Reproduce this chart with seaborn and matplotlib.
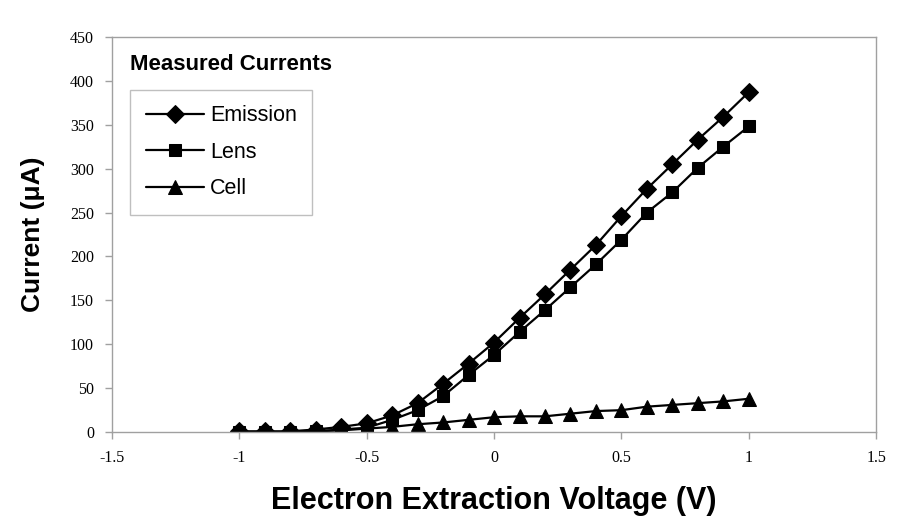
import matplotlib
matplotlib.use("Agg")
import matplotlib.pyplot as plt
import numpy as np
import pandas as pd
import seaborn as sns

# voltajes de extraccion (V)
voltaje = [-1.0, -0.9, -0.8, -0.7, -0.6, -0.5, -0.4, -0.3, -0.2, -0.1, 0.0,
           0.1, 0.2, 0.3, 0.4, 0.5, 0.6, 0.7, 0.8, 0.9, 1.0]

# corrientes medidas (uA)
emision = [1, 1, 1, 3, 6, 10, 19, 33, 55, 78, 102,
           130, 157, 185, 213, 246, 277, 305, 333, 359, 387]
lente = [0, 0, 0, 1, 3, 5, 14, 25, 41, 65, 88,
         114, 139, 165, 191, 219, 250, 273, 301, 325, 348]
celda = [0, 0, 0, 1, 2, 4, 6, 9, 11, 14, 17,
         18, 18, 21, 24, 25, 29, 31, 33, 35, 38]

x_ticks = [-1.5, -1, -0.5, 0, 0.5, 1, 1.5]
x_labels = ["-1.5", "-1", "-0.5", "0", "0.5", "1", "1.5"]
y_ticks = [0, 50, 100, 150, 200, 250, 300, 350, 400, 450]

df = pd.DataFrame({"V": voltaje, "Emission": emision, "Lens": lente, "Cell": celda})

sns.set_style("white", {"xtick.bottom": True, "ytick.left": True,
                        "text.color": "black", "axes.labelcolor": "black",
                        "xtick.color": "black", "ytick.color": "black"})
fig = plt.figure(figsize=(9.06, 5.27), dpi=100)
ax = fig.add_axes([0.1236, 0.180, 0.8434, 0.750])

series = [("Emission", "D", 9.5), ("Lens", "s", 9), ("Cell", "^", 10)]
for nombre, mk, ms in series:
    sns.lineplot(data=df, x="V", y=nombre, marker=mk, markersize=ms, color="black",
                 markeredgecolor="black", linewidth=1.6, label=nombre, ax=ax)

ax.set_xlim(-1.5, 1.5)
ax.set_ylim(0, 450)
ax.set_xticks(x_ticks)
ax.set_xticklabels(x_labels)
ax.set_yticks(y_ticks)
for lab in ax.get_xticklabels() + ax.get_yticklabels():
    lab.set_family("Liberation Serif")
    lab.set_fontsize(11.5)
    lab.set_color("black")

for s in ax.spines.values():
    s.set_color("#a0a0a0")
    s.set_linewidth(1.0)
ax.tick_params(axis="both", direction="out", length=5, color="#a0a0a0", width=1.0)
ax.tick_params(axis="x", pad=8)
ax.tick_params(axis="y", pad=8)

ax.set_xlabel("Electron Extraction Voltage (V)", family="Liberation Sans",
              fontweight="bold", fontsize=22, labelpad=14, color="black")
ax.set_ylabel("Current (\u03bcA)", family="Liberation Sans",
              fontweight="bold", fontsize=19, labelpad=18, color="black")

fig.text(0.144, 0.878, "Measured Currents", family="Liberation Sans",
         fontweight="bold", fontsize=16, va="center", color="black")
leg = ax.legend(loc="upper left", bbox_to_anchor=(0.0236, 0.866), frameon=True,
                fancybox=False, prop={"family": "Liberation Sans", "size": 15.5},
                handlelength=2.7, labelspacing=0.72, borderpad=0.72,
                handletextpad=0.3, borderaxespad=0.0)
leg.get_frame().set_edgecolor("#b0b0b0")
leg.get_frame().set_linewidth(1.0)
for t in leg.get_texts():
    t.set_color("black")

fig.savefig("out.png", dpi=100)
